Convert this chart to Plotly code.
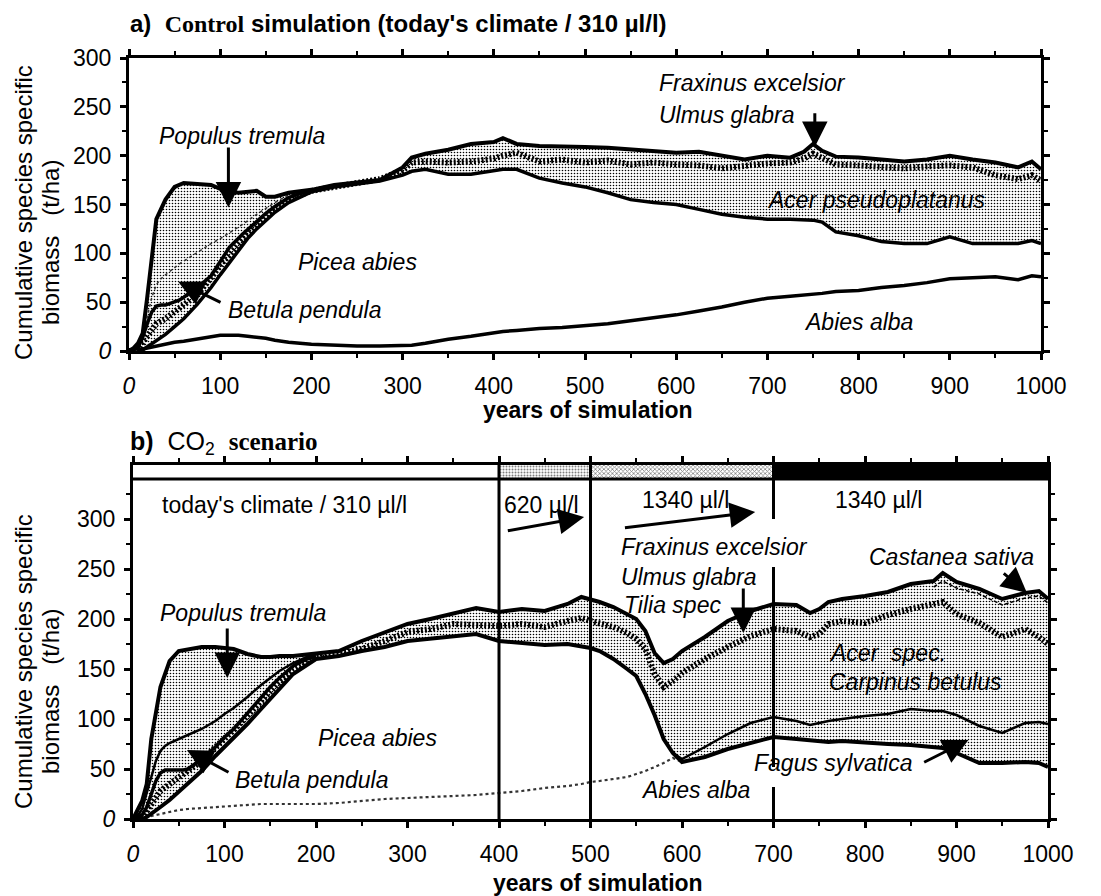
import plotly.graph_objects as go

W, H = 1101, 896

# ---------------- data: panel a (control simulation) ----------------
years_a = [0, 5, 10, 15, 20, 30, 40, 50, 60, 75, 90, 100, 110, 120, 130, 140, 150, 160, 175, 200,
           225, 250, 275, 300, 310, 325, 350, 375, 400, 410, 425, 450, 475, 500, 525, 550, 575, 600,
           625, 650, 675, 700, 725, 740, 750, 760, 775, 800, 825, 850, 875, 900, 925, 950, 975, 990, 1000]
abies_a = [0, 0, 1, 2, 3, 5, 7, 9, 10, 12, 14, 16, 16, 16, 15, 14, 13, 11, 9, 7,
           6, 5, 5, 6, 6, 8, 12, 15, 19, 20, 21, 23, 24, 26, 28, 31, 34, 37,
           41, 45, 50, 54, 56, 57, 58, 59, 61, 62, 65, 67, 70, 74, 75, 76, 73, 77, 76]
picea_a = [0, 0, 0, 1, 4, 10, 17, 25, 33, 48, 65, 78, 90, 103, 115, 125, 134, 142, 152, 163,
           168, 171, 174, 180, 184, 186, 181, 181, 184, 186, 186, 177, 172, 168, 162, 155, 152, 150,
           145, 140, 137, 135, 135, 134, 134, 132, 122, 118, 112, 110, 110, 117, 110, 110, 110, 113, 110]
acer_a = [0, 0, 2, 8, 15, 28, 33, 40, 47, 58, 75, 88, 98, 110, 120, 130, 138, 146, 155, 164,
          168, 172, 176, 185, 193, 194, 193, 194, 197, 200, 203, 194, 196, 193, 195, 191, 193, 191,
          190, 187, 190, 192, 193, 197, 202, 197, 191, 190, 189, 187, 189, 190, 188, 180, 176, 180, 174]
total_a = [0, 3, 8, 18, 55, 135, 155, 168, 172, 171, 170, 166, 163, 162, 163, 164, 158, 158, 162, 165,
           170, 172, 175, 188, 198, 202, 206, 212, 214, 218, 212, 210, 210, 209, 208, 206, 204, 203,
           204, 200, 196, 200, 198, 204, 212, 205, 199, 198, 196, 194, 196, 200, 196, 193, 188, 194, 186]

years_e = [0, 5, 10, 15, 20, 25, 30, 35, 40, 50, 55, 60, 65, 75, 90, 100, 110, 125, 140, 150, 160, 175, 190, 200]
betula_a = [0, 1, 4, 14, 28, 40, 46, 47, 47, 50, 52, 55, 58, 65, 77, 92, 106, 120, 133, 141, 148, 157, 162, 164]
populus_low_a = [0, 0, 1, 15, 35, 55, 68, 74, 78, 86, 89, 92, 95, 101, 110, 115, 121, 130, 140, 146, 152, 160, 164, 165]

# ---------------- data: panel b (CO2 scenario) ----------------
years_b = [0, 5, 10, 15, 20, 30, 40, 50, 60, 75, 90, 100, 110, 125, 140, 150, 160, 175, 200, 225,
           250, 275, 300, 325, 350, 375, 400, 425, 450, 475, 490, 500, 510, 525, 540, 550, 560, 570,
           580, 590, 600, 625, 650, 675, 700, 725, 740, 750, 760, 775, 800, 825, 850, 875, 885, 900,
           925, 950, 975, 990, 1000]
abies_b = [0, 0, 1, 2, 3, 5, 7, 9, 10, 11, 12, 13, 13, 14, 15, 15, 15, 15, 15, 16,
           18, 20, 21, 22, 23, 24, 26, 28, 31, 33, 35, 37, 38, 40, 42, 45, 48, 52,
           56, 61, 57, None, None, None, None, None, None, None, None, None, None, None, None, None, None, None,
           None, None, None, None, None]
picea_b = [0, 0, 0, 2, 5, 12, 19, 27, 35, 48, 63, 72, 81, 95, 110, 120, 130, 145, 160, 163,
           168, 172, 178, 180, 183, 185, 178, 176, 174, 175, 173, 171, 168, 160, 150, 143, 125, 104,
           80, 66, 57, 62, 70, 76, 82, 80, 79, 78, 77, 78, 76, 75, 74, 72, 71, 66,
           56, 56, 57, 56, 52]
fagus_b = [None, None, None, None, None, None, None, None, None, None, None, None, None, None, None, None, None, None, None, None,
           None, None, None, None, None, None, None, None, None, None, None, None, None, None, None, None, None, None,
           None, 66, 60, 72, 85, 96, 102, 98, 94, 96, 98, 100, 103, 105, 110, 108, 108, 104,
           93, 86, 96, 97, 95]
acer_b = [0, 1, 3, 8, 15, 28, 35, 42, 48, 58, 72, 80, 89, 103, 118, 128, 137, 150, 162, 165,
          170, 178, 187, 190, 195, 194, 193, 195, 192, 198, 201, 198, 196, 192, 186, 180, 170, 145,
          132, 138, 146, 160, 172, 183, 190, 188, 182, 185, 195, 198, 196, 204, 210, 214, 217, 205,
          196, 182, 190, 182, 175]
castanea_b = [None, None, None, None, None, None, None, None, None, None, None, None, None, None, None, None, None, None, None, None,
              None, None, None, None, None, None, None, None, None, None, None, None, None, None, None, None, None, None,
              None, None, None, None, None, None, None, None, None, None, None, None, None, None, None, 232, 238, 231,
              225, 214, 221, 223, 216]
total_b = [0, 8, 18, 35, 80, 132, 158, 168, 170, 172, 172, 171, 170, 165, 162, 162, 163, 163, 165, 168,
           178, 186, 195, 200, 206, 211, 207, 210, 208, 215, 222, 220, 217, 212, 205, 200, 188, 166,
           156, 160, 168, 182, 198, 208, 215, 214, 206, 210, 217, 220, 223, 227, 235, 238, 246, 237,
           230, 220, 226, 228, 220]
betula_b = [0, 1, 4, 12, 25, 38, 46, 49, 49, 49, 49, 50, 53, 60, 72, 82, 90, 106, 122, 132, 141, 153, 160, 163]
populus_low_b = [0, 3, 10, 25, 42, 58, 68, 73, 76, 80, 82, 84, 86, 90, 98, 105, 111, 122, 134, 141, 148, 156, 162, 165]

co2_bounds = [0, 400, 500, 700, 1000]
co2_labels = ["today's climate / 310 µl/l", "620 µl/l", "1340 µl/l", "1340 µl/l"]
x_ticks = [0, 100, 200, 300, 400, 500, 600, 700, 800, 900, 1000]
y_ticks = [0, 50, 100, 150, 200, 250, 300]

HEADER_LO, HEADER_HI = 340, 354
FONT = "Liberation Sans"


def px(x):
    return x / W


def py(y):
    return 1 - y / H


fig = go.Figure()
stipple = dict(shape=".", size=3, solidity=0.22, fgcolor="black", bgcolor="white", fillmode="replace")


def line(x, y, ax, width=3, dash="solid", color="black"):
    xa, ya = ax
    fig.add_trace(go.Scatter(x=x, y=y, mode="lines", xaxis=xa, yaxis=ya,
                             line=dict(color=color, width=width, dash=dash),
                             connectgaps=False, showlegend=False, hoverinfo="skip"))


def band(x, lo, hi, ax):
    xa, ya = ax
    fig.add_trace(go.Scatter(x=x, y=lo, mode="lines", xaxis=xa, yaxis=ya, line=dict(width=0),
                             showlegend=False, hoverinfo="skip"))
    fig.add_trace(go.Scatter(x=x, y=hi, mode="lines", xaxis=xa, yaxis=ya, line=dict(width=0),
                             fill="tonexty", fillpattern=stipple, fillcolor="white",
                             showlegend=False, hoverinfo="skip"))


A = ("x", "y")
B = ("x2", "y2")

# panel a
band(years_a, picea_a, total_a, A)
line(years_a, abies_a, A, 3.5)
line(years_a, picea_a, A, 3.5)
line(years_e, populus_low_a, A, 1.5, "dot", "#333")
line(years_e, betula_a, A, 3.5)
line(years_a, acer_a, A, 6, "2px,2px")
line(years_a, total_a, A, 4)

# panel b: header bar
header_styles = [dict(fillcolor="white"),
                 dict(fillcolor="white", fillpattern=dict(shape=".", size=3, solidity=0.35, fgcolor="black", bgcolor="white")),
                 dict(fillcolor="white", fillpattern=dict(shape="x", size=3, solidity=0.45, fgcolor="black", bgcolor="white")),
                 dict(fillcolor="black")]
for i in range(4):
    x0, x1 = co2_bounds[i], co2_bounds[i + 1]
    fig.add_trace(go.Scatter(x=[x0, x1, x1, x0, x0], y=[HEADER_LO, HEADER_LO, HEADER_HI, HEADER_HI, HEADER_LO],
                             mode="lines", fill="toself", line=dict(width=0), xaxis="x2", yaxis="y2",
                             showlegend=False, hoverinfo="skip", **header_styles[i]))

band(years_b, picea_b, total_b, B)
line(years_b, abies_b, B, 2.2, "dot", "#333")
line(years_b, picea_b, B, 4)
line(years_b, fagus_b, B, 2.5)
line(years_e, populus_low_b, B, 2.5)
line(years_e, betula_b, B, 3.5)
line(years_b, acer_b, B, 6, "2px,2px")
line(years_b, castanea_b, B, 1.5, "4px,2px")
line(years_b, total_b, B, 4)

# ---------------- axes ----------------
ticktext = ["<i>0</i>"] + [str(v) for v in x_ticks[1:]]
yticktext = ["<i>0</i>"] + [str(v) for v in y_ticks[1:]]
common = dict(showline=True, linewidth=3, linecolor="black", mirror="allticks", ticks="outside",
              ticklen=6, tickwidth=2.5, tickcolor="black", showgrid=False, zeroline=False,
              tickfont=dict(family=FONT, size=23, color="black"), automargin=False)

fig.update_layout(
    width=W, height=H, margin=dict(l=0, r=0, t=0, b=0),
    paper_bgcolor="white", plot_bgcolor="white", showlegend=False,
    xaxis=dict(domain=[px(129), px(1041)], range=[0, 1000], anchor="y", tickvals=x_ticks, ticktext=ticktext,
               ticklabelstandoff=6, minor=dict(tickvals=[v + 50 for v in x_ticks[:-1]], ticklen=4, tickwidth=2, tickcolor="black"),
               **common),
    yaxis=dict(domain=[py(351), py(58)], range=[0, 300], anchor="x", tickvals=y_ticks, ticktext=yticktext,
               ticklabelstandoff=4, minor=dict(tickvals=[v + 25 for v in y_ticks[:-1]], ticklen=4, tickwidth=2, tickcolor="black"),
               **common),
    xaxis2=dict(domain=[px(133), px(1048)], range=[0, 1000], anchor="y2", tickvals=x_ticks, ticktext=ticktext,
                ticklabelstandoff=6, minor=dict(tickvals=[v + 50 for v in x_ticks[:-1]], ticklen=4, tickwidth=2, tickcolor="black"),
                **common),
    yaxis2=dict(domain=[py(819), py(465)], range=[0, HEADER_HI], anchor="x2", tickvals=y_ticks, ticktext=yticktext,
                ticklabelstandoff=4, minor=dict(tickvals=[v + 25 for v in y_ticks], ticklen=4, tickwidth=2, tickcolor="black"),
                **common),
)

# header border & period separators
shapes = [dict(type="line", xref="x2", yref="y2", x0=0, x1=1000, y0=HEADER_LO, y1=HEADER_LO,
               line=dict(color="black", width=3))]
for xb in co2_bounds[1:3]:
    shapes.append(dict(type="line", xref="x2", yref="y2", x0=xb, x1=xb, y0=0, y1=HEADER_HI,
                       line=dict(color="black", width=3)))
for y0, y1 in [(0, 32), (52, 252), (300, HEADER_HI)]:
    shapes.append(dict(type="line", xref="x2", yref="y2", x0=co2_bounds[3], x1=co2_bounds[3], y0=y0, y1=y1,
                       line=dict(color="black", width=3)))
fig.update_layout(shapes=shapes)

ann = []


def text(x, y, s, ax=A, anchor="center", size=23, italic=True):
    ann.append(dict(x=x, y=y, xref=ax[0], yref=ax[1], text=("<i>%s</i>" % s) if italic else s,
                    showarrow=False, xanchor=anchor, yanchor="middle",
                    font=dict(family=FONT, size=size, color="black")))


def arrow(tail, tip, ax=A, size=1.7, width=3):
    ann.append(dict(x=tip[0], y=tip[1], ax=tail[0], ay=tail[1], xref=ax[0], yref=ax[1],
                    axref=ax[0], ayref=ax[1], text="", showarrow=True, arrowhead=2,
                    arrowsize=size, arrowwidth=width, arrowcolor="black"))


# panel a labels
text(124, 220, "Populus tremula")
arrow((109, 210), (109, 147))
text(250, 91, "Picea abies")
text(192, 42, "Betula pendula")
arrow((102, 49), (54, 71))
text(579, 274, "Fraxinus excelsior", anchor="left")
text(579, 242, "Ulmus glabra", anchor="left")
arrow((752, 245), (752, 209))
text(820, 155, "Acer pseudoplatanus")
text(800, 30, "Abies alba")

# panel b labels
text(30, 314, co2_labels[0], B, "left", italic=False)
text(403, 314, co2_labels[1], B, "left", italic=False)
text(554, 319, co2_labels[2], B, "left", italic=False)
text(765, 319, co2_labels[3], B, "left", italic=False)
arrow((408, 288), (493, 302), B)
arrow((536, 291), (680, 307), B)
text(120, 206, "Populus tremula", B)
arrow((103, 192), (103, 141), B)
text(267, 81, "Picea abies", B)
text(195, 39, "Betula pendula", B)
arrow((106, 46), (59, 69), B)
text(531, 272, "Fraxinus excelsior", B, "left")
text(531, 242, "Ulmus glabra", B, "left")
text(534, 214, "Tilia spec", B, "left")
arrow((667, 232), (667, 186), B)
text(895, 262, "Castanea sativa", B)
arrow((950, 247), (977, 226), B)
text(758, 166, "Acer  spec.", B, "left")
text(758, 137, "Carpinus betulus", B, "left")
text(766, 56, "Fagus sylvatica", B)
arrow((863, 56), (913, 79), B)
text(615, 29, "Abies alba", B)

# titles
ann.append(dict(x=px(128), y=py(23), xref="paper", yref="paper", xanchor="left", yanchor="middle", showarrow=False,
                text="<b>a)  </b><span style='font-family:Liberation Serif'><b>Control</b></span><b> simulation (today's climate / 310 µl/l)</b>",
                font=dict(family=FONT, size=24, color="black")))
ann.append(dict(x=px(128), y=py(443), xref="paper", yref="paper", xanchor="left", yanchor="middle", showarrow=False,
                text="<b>b)</b>  CO<sub>2</sub>  <span style='font-family:Liberation Serif'><b>scenario</b></span>",
                font=dict(family=FONT, size=25, color="black")))
for cx, cy in [(588, 410), (598, 883)]:
    ann.append(dict(x=px(cx), y=py(cy), xref="paper", yref="paper", showarrow=False,
                    xanchor="center", yanchor="middle",
                    text="<b>years of simulation</b>", font=dict(family=FONT, size=23, color="black")))
for (x1, y1, x2, y2) in [(23, 213, 50, 243), (23, 662, 50, 692)]:
    ann.append(dict(x=px(x1), y=py(y1), xref="paper", yref="paper", showarrow=False, textangle=-90,
                    xanchor="center", yanchor="middle",
                    text="Cumulative species specific", font=dict(family=FONT, size=24, color="black")))
    ann.append(dict(x=px(x2), y=py(y2), xref="paper", yref="paper", showarrow=False, textangle=-90,
                    xanchor="center", yanchor="middle",
                    text="biomass&nbsp;&nbsp;&nbsp;(t/ha)", font=dict(family=FONT, size=24, color="black")))

fig.update_layout(annotations=ann)
fig.write_html("out.html", config={"displayModeBar": False},
               post_script="document.body.style.margin='0px';document.body.style.overflow='hidden';")
